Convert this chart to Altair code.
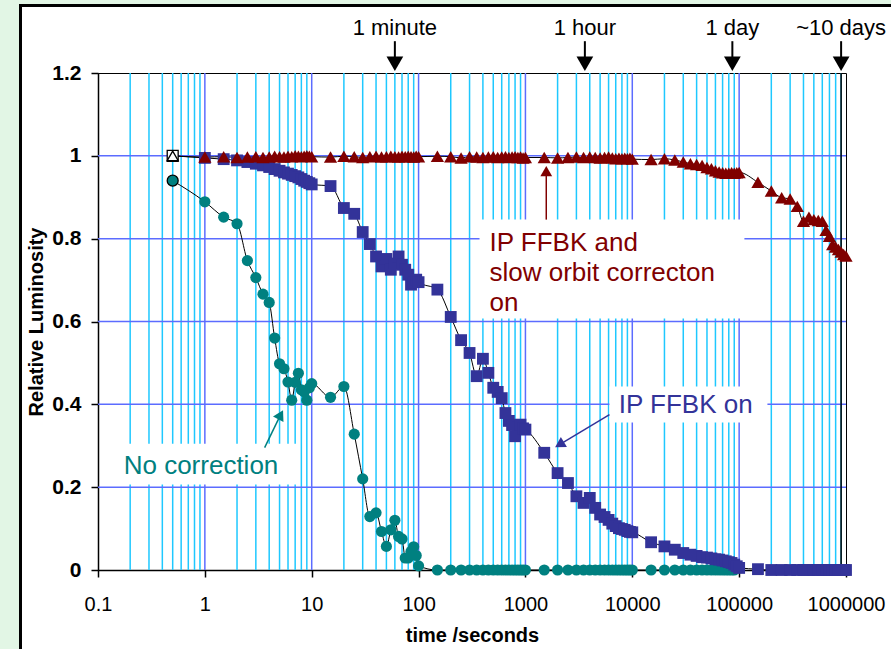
import altair as alt
import pandas as pd

# ---------------- data ----------------
TIMES = [0.5, 1, 1.5, 2, 2.5, 3, 3.5, 4, 4.5, 5, 5.5, 6, 6.5, 7, 7.5, 8, 8.5, 9, 9.5, 10,
         15, 20, 25, 30, 35, 40, 45, 50, 55, 60, 65, 70, 75, 80, 85, 90, 95, 100,
         150, 200, 250, 300, 350, 400, 450, 500, 550, 600, 650, 700, 750, 800, 850, 900, 950, 1000,
         1500, 2000, 2500, 3000, 3500, 4000, 4500, 5000, 5500, 6000, 6500, 7000, 7500, 8000, 8500, 9000, 9500, 10000,
         15000, 20000, 25000, 30000, 35000, 40000, 45000, 50000, 55000, 60000, 65000, 70000, 75000, 80000, 85000, 90000, 95000, 100000,
         150000, 200000, 250000, 300000, 350000, 400000, 450000, 500000, 550000, 600000, 650000, 700000, 750000, 800000, 850000, 900000, 950000, 1000000]

# No correction
lum_nc = [0.94, 0.889, 0.852, 0.836, 0.747, 0.706, 0.666, 0.646, 0.56, 0.498,
          0.486, 0.454, 0.41, 0.453, 0.475, 0.435, 0.43, 0.41, 0.44, 0.45,
          0.417, 0.443, 0.328, 0.22, 0.129, 0.138, 0.093, 0.057, 0.097, 0.12,
          0.081, 0.075, 0.029, 0.029, 0.045, 0.056, 0.035, 0.01,
          0, 0, 0, 0, 0, 0, 0, 0, 0, 0, 0, 0, 0, 0, 0, 0, 0, 0,
          0, 0, 0, 0, 0, 0, 0, 0, 0, 0, 0, 0, 0, 0, 0, 0, 0, 0,
          0, 0, 0, 0, 0, 0, 0, 0, 0, 0, 0, 0, 0, 0, 0, 0]

# IP FFBK on
lum_fb = [1.0, 0.995, 0.992, 0.989, 0.985, 0.981, 0.977, 0.973, 0.968, 0.964,
          0.96, 0.957, 0.954, 0.951, 0.948, 0.944, 0.94, 0.937, 0.934, 0.931,
          0.927, 0.874, 0.86, 0.816, 0.787, 0.757, 0.733, 0.751, 0.725, 0.74,
          0.757, 0.737, 0.725, 0.713, 0.689, 0.695, 0.701, 0.695,
          0.677, 0.611, 0.555, 0.524, 0.468, 0.51, 0.476, 0.44, 0.43, 0.415,
          0.379, 0.36, 0.35, 0.323, 0.345, 0.351, 0.342, 0.339,
          0.283, 0.234, 0.21, 0.178, 0.162, 0.174, 0.15, 0.134, 0.128, 0.121,
          0.112, 0.106, 0.101, 0.099, 0.097, 0.094, 0.092, 0.091,
          0.067, 0.057, 0.049, 0.041, 0.037, 0.034, 0.031, 0.03, 0.028, 0.026,
          0.025, 0.023, 0.021, 0.019, 0.017, 0.013, 0.009, 0.005,
          0.002, 0, 0, 0, 0, 0, 0, 0, 0, 0, 0, 0, 0, 0, 0, 0, 0, 0]

# IP FFBK and slow orbit correction on
lum_oc = [1.0, 0.997, 0.998, 0.996, 0.997, 0.998, 0.996, 0.997, 0.999, 0.998,
          0.997, 0.999, 0.998, 1.0, 0.999, 0.998, 0.999, 1.0, 0.999, 0.998,
          0.997, 0.999, 0.998, 0.996, 0.998, 0.999, 0.997, 0.998, 0.999, 0.998,
          0.997, 0.999, 0.998, 0.999, 0.998, 0.997, 0.999, 0.998,
          0.999, 0.998, 0.995, 0.998, 0.997, 0.996, 0.997, 0.998, 0.996, 0.997,
          0.998, 0.996, 0.997, 0.998, 0.996, 0.997, 0.995, 0.996,
          0.996, 0.995, 0.996, 0.997, 0.996, 0.997, 0.996, 0.995, 0.996, 0.997,
          0.995, 0.993, 0.994, 0.993, 0.994, 0.993, 0.994, 0.992,
          0.991, 0.993, 0.99, 0.985, 0.981, 0.979, 0.977, 0.972, 0.969, 0.964,
          0.961, 0.959, 0.958, 0.958, 0.959, 0.958, 0.959, 0.96,
          0.936, 0.915, 0.899, 0.896, 0.878, 0.842, 0.852, 0.846, 0.844, 0.842,
          0.82, 0.806, 0.786, 0.78, 0.774, 0.768, 0.762, 0.758]

X_TICKS = [0.1, 1, 10, 100, 1000, 10000, 100000, 1000000]
Y_TICKS = [0, 0.2, 0.4, 0.6, 0.8, 1, 1.2]
H_GRID = [0.2, 0.4, 0.6, 0.8, 1.0]
MAJOR_GRID = [1, 10, 100, 1000, 10000, 100000]
MINOR_GRID = [m * 10.0 ** e for e in range(-1, 6) for m in range(2, 10)]

# annotations
ann_text = ["IP FFBK and", "slow orbit correcton", "on", "IP FFBK on", "No correction"]
ann_t = [461, 461, 461, 7475, 0.174]
ann_lum = [0.7696, 0.6971, 0.6246, 0.379, 0.232]
ann_col = ["#800000", "#800000", "#800000", "#333399", "#008080"]

box_t1 = [372, 6118, 0.1287]
box_t2 = [112000, 183900, 7.22]
box_l1 = [0.607, 0.356, 0.2065]
box_l2 = [0.846, 0.4428, 0.305]

lead_t1 = [1567, 6118, 3.626]
lead_l1 = [0.846, 0.3751, 0.2954]
lead_t2 = [1567, 2084, 5.12]
lead_l2 = [0.963, 0.3027, 0.375]
lead_ang = [0, 239, 28]
lead_col = ["#800000", "#333399", "#008080"]

top_text = ["1 minute", "1 hour", "1 day", "~10 days"]
top_t = [60, 3600, 86400, 900000]

# ---------------- styling ----------------
FONT = "Liberation Sans"
GREEN = "#e2f6e5"
TEAL, BLUE, RED = "#008080", "#333399", "#800000"
CYAN, GRIDBLUE = "#1ec8ff", "#5c6cff"

xs = alt.Scale(type="log", domain=[0.1, 1000000], nice=False)
ys = alt.Scale(domain=[0, 1.2], nice=False, zero=False)

x_axis = alt.Axis(values=X_TICKS, format="~f", title="time /seconds", labelFontSize=20,
                  labelFlush=False, labelOverlap=False, tickSize=7, tickWidth=1.5, domainWidth=1.5,
                  labelPadding=17, titleFontSize=20, titleFontWeight="bold", titlePadding=11,
                  grid=False)
y_axis = alt.Axis(values=Y_TICKS, format="~g", title="Relative Luminosity", labelFontSize=21,
                  labelFontWeight="bold", tickSize=7, tickWidth=1.5, domainWidth=1.5,
                  labelPadding=10, titleFontSize=20, titleFontWeight="bold", titlePadding=5,
                  grid=False, labelFlush=False)


def ex(f):
    return alt.X(f"{f}:Q", scale=xs, axis=x_axis)


def ey(f):
    return alt.Y(f"{f}:Q", scale=ys, axis=y_axis)


rows = []
for name, ts, ls in [("nc", TIMES[:len(lum_nc)], lum_nc), ("fb", TIMES, lum_fb), ("oc", TIMES, lum_oc)]:
    for i, (t, l) in enumerate(zip(ts, ls)):
        rows.append({"series": name, "t": t, "lum": l, "i": i})
df = pd.DataFrame(rows)

one = pd.DataFrame({"a": [0]})

deco_left = alt.Chart(one).mark_rect(color=GREEN).encode(
    x=alt.value(-98), x2=alt.value(-78), y=alt.value(-73), y2=alt.value(700))
deco_top = alt.Chart(one).mark_rect(color=GREEN).encode(
    x=alt.value(-98), x2=alt.value(900), y=alt.value(-73), y2=alt.value(-68))
frame = alt.Chart(one).mark_rect(fillOpacity=0, stroke="black", strokeWidth=3).encode(
    x=alt.value(-77.5), x2=alt.value(900), y=alt.value(-67.5), y2=alt.value(700))

minor = alt.Chart(pd.DataFrame({"t": MINOR_GRID})).mark_rule(color=CYAN, strokeWidth=1.5).encode(x=ex("t"))
major = alt.Chart(pd.DataFrame({"t": MAJOR_GRID})).mark_rule(color=GRIDBLUE, strokeWidth=1.5).encode(x=ex("t"))
hgrid = alt.Chart(pd.DataFrame({"lum": H_GRID})).mark_rule(color=GRIDBLUE, strokeWidth=1.5).encode(y=ey("lum"))
day10 = alt.Chart(pd.DataFrame({"t": [top_t[3]]})).mark_rule(color="black", strokeWidth=1.5).encode(x=ex("t"))

boxes = alt.Chart(pd.DataFrame({"t": box_t1, "t2": box_t2, "lum": box_l1, "l2": box_l2})).mark_rect(
    color="white").encode(x=ex("t"), x2="t2:Q", y=ey("lum"), y2="l2:Q")

lead_df = pd.DataFrame({"t1": lead_t1, "l1": lead_l1, "t": lead_t2, "lum": lead_l2,
                        "ang": lead_ang, "col": lead_col})
leaders = alt.Chart(lead_df).mark_rule(strokeWidth=1.5).encode(
    x=ex("t"), x2="t1:Q", y=ey("lum"), y2="l1:Q", color=alt.Color("col:N", scale=None))
heads = alt.Chart(lead_df).mark_point(shape="triangle-up", filled=True, opacity=1, size=140).encode(
    x=ex("t"), y=ey("lum"), angle=alt.Angle("ang:Q", scale=None), color=alt.Color("col:N", scale=None))

lines = alt.Chart(df).mark_line(color="black", strokeWidth=1, interpolate="monotone").encode(
    x=ex("t"), y=ey("lum"), detail="series:N", order="i:Q")

m_nc = alt.Chart(df).transform_filter("datum.series == 'nc' && datum.i > 0").mark_point(
    shape="circle", filled=True, color=TEAL, size=125, opacity=1).encode(x=ex("t"), y=ey("lum"))
m_fb = alt.Chart(df).transform_filter("datum.series == 'fb' && datum.i > 0").mark_point(
    shape="square", filled=True, color=BLUE, size=140, opacity=1).encode(x=ex("t"), y=ey("lum"))
m_oc = alt.Chart(df).transform_filter("datum.series == 'oc' && datum.i > 0").mark_point(
    shape="triangle-up", filled=True, color=RED, size=175, opacity=1).encode(x=ex("t"), y=ey("lum"))

f_nc = alt.Chart(df).transform_filter("datum.series == 'nc' && datum.i == 0").mark_point(
    shape="circle", filled=True, fill=TEAL, stroke="black", strokeWidth=1.3, size=120, opacity=1).encode(
    x=ex("t"), y=ey("lum"))
f_fb = alt.Chart(df).transform_filter("datum.series == 'fb' && datum.i == 0").mark_point(
    shape="square", filled=True, fill="white", stroke="black", strokeWidth=1.3, size=120, opacity=1).encode(
    x=ex("t"), y=ey("lum"))
f_oc = alt.Chart(df).transform_filter("datum.series == 'oc' && datum.i == 0").mark_point(
    shape="triangle-up", filled=True, fill="white", stroke="black", strokeWidth=1.3, size=120, opacity=1).encode(
    x=ex("t"), y=ey("lum"))

ann = alt.Chart(pd.DataFrame({"t": ann_t, "lum": ann_lum, "txt": ann_text, "col": ann_col})).mark_text(
    font=FONT, fontSize=26, align="left", baseline="alphabetic").encode(
    x=ex("t"), y=ey("lum"), text="txt:N", color=alt.Color("col:N", scale=None))

top_df = pd.DataFrame({"t": top_t, "txt": top_text, "y1": [1.2768] * 4, "lum": [1.2223] * 4,
                       "ty": [1.2913] * 4})
top_rules = alt.Chart(top_df).mark_rule(color="black", strokeWidth=2).encode(
    x=ex("t"), y=ey("lum"), y2="y1:Q")
top_heads = alt.Chart(top_df).mark_point(shape="triangle-down", filled=True, color="black",
                                         size=280, opacity=1).encode(x=ex("t"), y=ey("lum"))
top_labels = alt.Chart(top_df).mark_text(font=FONT, fontSize=22, align="center",
                                         baseline="alphabetic", color="black").encode(
    x=ex("t"), y=alt.Y("ty:Q", scale=ys, axis=y_axis), text="txt:N")

chart = alt.layer(
    deco_left, deco_top, frame, minor, major, hgrid, day10, boxes, leaders, heads,
    lines, m_nc, m_fb, m_oc, f_fb, f_oc, f_nc, ann, top_rules, top_heads, top_labels
).properties(
    width=748, height=497,
    padding={"left": 98, "top": 73, "right": 45, "bottom": 79},
    autosize=alt.AutoSizeParams(type="none"),
    background="white",
).configure_view(stroke="black", strokeWidth=1).configure_axis(
    labelFont=FONT, titleFont=FONT, labelColor="black", titleColor="black",
    domainColor="black", tickColor="black")

chart.save("out.html", embed_options={"renderer": "svg", "actions": False})
